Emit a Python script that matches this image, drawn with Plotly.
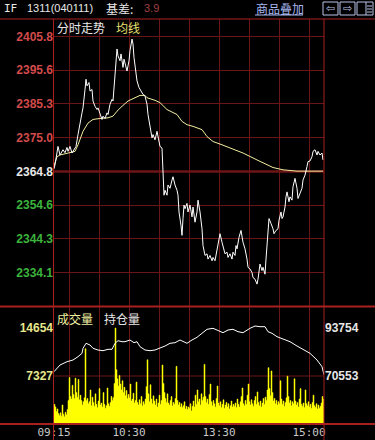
import plotly.graph_objects as go

W, H = 375, 440

# ---------------- data ----------------
prev_close = 2364.8
price_ticks = [2405.8, 2395.6, 2385.3, 2375.0, 2364.8, 2354.6, 2344.3, 2334.1]
pct_labels = ["+1.73%", "+1.30%", "+0.87%", "+0.43%", "+0.00%", "-0.43%", "-0.87%", "-1.30%"]

price_min = [0, 1, 4, 6, 9, 11, 13, 14, 16, 18, 19, 22, 24, 26, 28, 29, 30, 31, 32, 33, 35, 36, 38, 39,
             41, 43, 44, 46, 48, 49, 51, 53, 54, 56, 58, 59, 61, 63, 64, 66, 67, 69, 70, 72, 73, 75, 76,
             78, 79, 80, 82, 83, 85, 88, 89, 91, 93, 94, 96, 98, 99, 101, 103, 104, 106, 108, 109, 110,
             111, 113, 114, 116, 118, 119, 121, 123, 124, 125, 127, 128, 129, 130, 131, 133, 134, 136,
             138, 139, 141, 143, 144, 146, 148, 149, 151, 153, 154, 156, 158, 159, 161, 163, 164, 166,
             168, 169, 171, 173, 174, 176, 178, 179, 181, 182, 183, 185, 187, 189, 191, 193, 194, 196,
             198, 199, 201, 203, 204, 206, 208, 209, 211, 212, 213, 215, 217, 219, 220, 222, 224, 225,
             227, 228, 229, 231, 232, 233, 235, 236, 238, 239, 241, 243, 244, 246, 248, 249, 251, 253,
             254, 256, 258, 259, 261, 263, 264, 266, 268, 269]
price_val = [2365.6, 2366.8, 2372.4, 2369.8, 2371.4, 2370.5, 2372.1, 2370.9, 2372.4, 2370.4, 2370.9,
             2372.4, 2376.0, 2380.0, 2382.6, 2384.1, 2386.2, 2389.7, 2392.8, 2390.8, 2391.8, 2389.2,
             2389.7, 2386.2, 2384.6, 2383.6, 2384.1, 2382.1, 2380.6, 2381.6, 2380.9, 2382.6, 2382.1,
             2385.2, 2386.7, 2386.2, 2395.3, 2402.0, 2399.9, 2398.4, 2400.5, 2396.4, 2398.9, 2396.9,
             2395.3, 2398.4, 2401.5, 2405.0, 2403.5, 2399.4, 2394.9, 2392.3, 2390.3, 2388.7, 2388.2,
             2387.7, 2385.2, 2382.1, 2379.0, 2375.0, 2376.0, 2374.4, 2377.0, 2375.0, 2372.4, 2371.9,
             2362.7, 2357.6, 2359.1, 2357.6, 2360.7, 2359.7, 2362.2, 2363.2, 2360.7, 2359.1, 2357.6,
             2352.5, 2348.4, 2345.4, 2350.5, 2354.6, 2353.5, 2355.1, 2352.5, 2354.6, 2351.0, 2354.0,
             2349.4, 2352.5, 2356.1, 2352.5, 2347.4, 2342.3, 2339.3, 2339.8, 2338.2, 2339.3, 2337.7,
             2338.7, 2337.7, 2341.3, 2343.3, 2345.9, 2343.3, 2341.8, 2339.8, 2340.3, 2338.7, 2339.8,
             2338.2, 2340.3, 2339.3, 2342.3, 2341.3, 2344.8, 2346.9, 2343.3, 2341.3, 2338.2, 2335.7,
             2335.2, 2334.1, 2332.6, 2332.1, 2330.6, 2332.1, 2336.7, 2334.7, 2335.7, 2333.6, 2338.2,
             2343.3, 2350.5, 2349.0, 2347.4, 2345.9, 2346.9, 2347.4, 2350.0, 2352.5, 2350.5, 2351.0,
             2354.0, 2357.1, 2358.6, 2355.6, 2357.1, 2356.1, 2360.2, 2362.7, 2359.7, 2356.6, 2358.1,
             2359.7, 2362.2, 2363.7, 2366.3, 2367.8, 2368.0, 2369.3, 2370.9, 2371.4, 2369.8, 2370.9,
             2369.8, 2370.4, 2368.3]

avg_min = [0, 3, 6, 11, 21, 24, 29, 34, 39, 46, 54, 59, 63, 68, 74, 81, 86, 91, 93, 101, 106, 113,
           123, 128, 133, 139, 148, 153, 159, 168, 174, 181, 189, 203, 213, 219, 229, 243, 269]
avg_val = [2366.5, 2369.3, 2369.8, 2370.1, 2370.9, 2372.9, 2377.0, 2379.5, 2380.6, 2380.9, 2381.1,
           2381.6, 2383.1, 2384.6, 2386.2, 2387.2, 2387.9, 2387.9, 2387.2, 2386.4, 2385.7, 2383.6,
           2382.1, 2380.0, 2379.0, 2378.5, 2377.5, 2375.4, 2373.9, 2372.9, 2372.2, 2371.4, 2370.4,
           2368.3, 2366.8, 2366.0, 2365.3, 2364.9, 2364.9]

volume = [
    3000, 2600, 1900, 2300, 1600, 1300, 1700, 1200, 2900, 1500, 1100, 1800, 1400, 2200, 3600,
    7100, 4200, 3800, 5900, 4500, 3900, 7000, 4800, 4100, 6800, 3700, 4400, 3600, 2900, 3400,
    4000, 11500, 3600, 3900, 3100, 3400, 5200, 2800, 4100, 3300, 2700, 4600, 3000, 2500, 3500,
    5400, 2900, 3200, 2600, 4800, 3000, 2400, 2800, 5500, 3100, 2700, 3300, 4200, 3600, 4000,
    6200, 14654, 8300, 6900, 5800, 7400, 6100, 5200, 6600, 4800, 5600, 4300, 5100, 3900, 4500,
    4000, 6100, 3500, 3800, 4700, 3200, 3600, 6400, 3300, 2900, 3700, 3100, 4200, 2800, 3400,
    3000, 3800, 5700, 9800, 4600, 3400, 6000, 3800, 3100, 4300, 3500, 2900, 3800, 2600, 3200,
    4400, 3000, 3600, 9000, 6200, 4800, 3900, 3300, 4600, 3200, 2900, 3600, 4200, 2800, 3300,
    3000, 3900, 8800, 3600, 2900, 3300, 2600, 3100, 2500, 2800, 3400, 2300, 2700, 2200, 2600,
    2400, 3100, 2000, 2700, 3500, 2600, 4400, 3000, 5200, 3400, 3800, 2900, 4600, 3600, 4100,
    9100, 4200, 3300, 3800, 3000, 4500, 6100, 3400, 2800, 3600, 3100, 2600, 3900, 5800, 3200,
    2800, 3400, 2500, 3000, 3700, 2400, 2900, 3300, 2600, 3100, 2300, 2800, 3500, 2600, 3000,
    2700, 3200, 2500, 3800, 3000, 2600, 3400, 4200, 5500, 3100, 2800, 3600, 3000, 4400, 6100,
    3400, 2900, 3700, 3100, 2700, 3600, 4200, 3000, 4900, 3300, 2800, 3500, 2600, 3200, 3900,
    3000, 4100, 3600, 5200, 8600, 5400, 4300, 8100, 4800, 3500, 3900, 3100, 3600, 2900, 3400,
    3100, 6600, 3800, 3000, 3500, 2700, 3300, 4000, 7300, 4200, 3200, 3600, 2800, 3400, 3100,
    6900, 3500, 2900, 3300, 2600, 3800, 5400, 3000, 2700, 3200, 2500, 5200, 3100, 2800, 3400,
    2600, 3000, 2400, 3300, 4400, 2800, 2500, 3100, 2300, 2900, 2400, 2700, 3200, 4200, 3800,
]
vol_min = list(range(len(volume)))

oi_min = [0, 6, 13, 19, 24, 28, 29, 32, 36, 39, 44, 49, 54, 58, 61, 64, 68, 71, 76, 80, 83, 86, 91,
          96, 101, 106, 111, 116, 121, 126, 129, 133, 138, 143, 148, 153, 159, 164, 169, 174, 179,
          184, 189, 196, 201, 206, 211, 214, 218, 223, 229, 236, 243, 249, 256, 263, 268, 270]
oi_val = [72632, 75870, 77466, 78287, 79883, 81526, 83943, 86360, 85538, 83943, 83121, 82783, 83460,
          83460, 86360, 87617, 87134, 87134, 87955, 86650, 87134, 84717, 83121, 82783, 83121, 83943,
          85055, 86360, 86650, 87955, 87134, 86360, 87955, 89261, 91194, 93128, 93611, 92451, 91484,
          92789, 93128, 91968, 91484, 93611, 94723, 94385, 94385, 91968, 91194, 89551, 88294, 87134,
          85055, 83460, 81526, 78287, 75049, 71100]

vol_ticks = [14654, 7327]
oi_ticks = [93754, 70553]
grid_minutes = [15, 45, 75, 105, 135, 165, 195, 225, 255]
time_ticks = [0, 75, 165, 255]
time_labels = ["09:15", "10:30", "13:30", "15:00"]

# ---------------- layout geometry ----------------
X0, X1 = 54, 324
P_TOP, P_BOT = 19, 306.5
V_TOP, V_BOT = 306.5, 424
price_range = [2323.8, 2411.1]
vol_range = [0, 7327 * (V_BOT - V_TOP) / 48.0]
oi_per_px = (93754 - 70553) / 48.0
oi_range = [70553 - (V_BOT - 376) * oi_per_px, 93754 + (328 - V_TOP) * oi_per_px]


def px(x):
    return x / W


def py(y):
    return 1 - y / H


RED = "#d24a4a"
GREEN = "#3cb43c"
WHITE = "#e8e8e8"
GRID = "#6a1616"
BORDER = "#a82020"


def colored(v):
    if v > prev_close + 0.01:
        return RED
    if v < prev_close - 0.01:
        return GREEN
    return WHITE


price_text = ['<span style="color:%s">%.1f</span>' % (colored(v), v) for v in price_ticks]
pct_text = ['<span style="color:%s">%s</span>' % (colored(v), t) for v, t in zip(price_ticks, pct_labels)]

fig = go.Figure()
# volume as a stepped filled area (one step per minute)
fig.add_trace(go.Scatter(x=vol_min + [len(volume)], y=volume + [volume[-1]], mode="lines",
                         line=dict(color="#ffff00", width=0.5, shape="hv"), fill="tozeroy",
                         fillcolor="#ffff00", xaxis="x2", yaxis="y3", hoverinfo="skip"))
fig.add_trace(go.Scatter(x=oi_min, y=oi_val, mode="lines", line=dict(color="#ffffff", width=1),
                         xaxis="x2", yaxis="y4", hoverinfo="skip"))
fig.add_trace(go.Scatter(x=avg_min, y=avg_val, mode="lines", line=dict(color="#f2eea0", width=1),
                         xaxis="x", yaxis="y", hoverinfo="skip"))
fig.add_trace(go.Scatter(x=price_min, y=price_val, mode="lines", line=dict(color="#ffffff", width=1),
                         xaxis="x", yaxis="y", hoverinfo="skip"))

lblfont = dict(family="Liberation Sans", size=12, weight="bold")
xdom = [px(X0), px(X1)]
common = dict(automargin=False, zeroline=False, showline=False, fixedrange=True)
fig.update_layout(
    width=W, height=H, margin=dict(l=0, r=0, t=0, b=0, autoexpand=False),
    paper_bgcolor="#000000", plot_bgcolor="#000000",
    showlegend=False,
    xaxis=dict(domain=xdom, range=[0, 270], anchor="y", tickmode="array", tickvals=grid_minutes,
               showticklabels=False, ticks="", showgrid=True, gridcolor=GRID, gridwidth=1, **common),
    yaxis=dict(domain=[py(P_BOT), py(P_TOP)], range=price_range, anchor="x", tickmode="array",
               tickvals=price_ticks, ticktext=price_text, ticks="", showgrid=True, gridcolor=GRID,
               gridwidth=1, tickfont=lblfont, ticklabelstandoff=0, **common),
    yaxis2=dict(overlaying="y", side="right", range=price_range, anchor="x", tickmode="array",
                tickvals=price_ticks, ticktext=pct_text, ticks="", showgrid=False,
                tickfont=lblfont, ticklabelstandoff=0, **common),
    xaxis2=dict(domain=xdom, range=[0, 270], anchor="y3", tickmode="array",
                tickvals=[0] + grid_minutes,
                ticktext=[time_labels[time_ticks.index(t)] if t in time_ticks else "" for t in [0] + grid_minutes],
                ticks="", showgrid=True, gridcolor=GRID, gridwidth=1,
                tickfont=dict(family="DejaVu Sans Mono", size=11, color="#c8c8c8"), ticklabelstandoff=0,
                **common),
    yaxis3=dict(domain=[py(V_BOT), py(V_TOP)], range=vol_range, anchor="x2", tickmode="array",
                tickvals=vol_ticks, ticktext=[str(v) for v in vol_ticks], ticks="", showgrid=False,
                tickfont=dict(lblfont, color="#e6e68c"), ticklabelstandoff=0, **common),
    yaxis4=dict(overlaying="y3", side="right", range=oi_range, anchor="x2", tickmode="array",
                tickvals=oi_ticks, ticktext=[str(v) for v in oi_ticks], ticks="", showgrid=False,
                tickfont=dict(lblfont, color=WHITE), ticklabelstandoff=0, **common),
)

shapes = []
shapes.append(dict(type="line", xref="x domain", yref="y", x0=0, x1=1, y0=prev_close, y1=prev_close,
                   line=dict(color=BORDER, width=2), layer="below"))
shapes.append(dict(type="line", xref="x2 domain", yref="y3", x0=0, x1=1, y0=vol_ticks[1], y1=vol_ticks[1],
                   line=dict(color=GRID, width=1), layer="below"))
for yy, wd in [(P_TOP, 1), (V_TOP, 2), (V_BOT, 2)]:
    shapes.append(dict(type="line", xref="paper", yref="paper", x0=0, x1=1, y0=py(yy), y1=py(yy),
                       line=dict(color=BORDER, width=wd)))
for xx in [X0 - 0.5, X1]:
    shapes.append(dict(type="line", xref="paper", yref="paper", x0=px(xx), x1=px(xx), y0=py(P_TOP), y1=0,
                       line=dict(color=BORDER, width=1)))
ICON = "#b8c4e8"
for bx0, bx1 in [(323, 338), (340, 355), (357, 373)]:
    shapes.append(dict(type="rect", xref="paper", yref="paper", x0=px(bx0), x1=px(bx1), y0=py(15), y1=py(2),
                       line=dict(color=ICON, width=1)))
shapes.append(dict(type="line", xref="paper", yref="paper", x0=px(366), x1=px(366), y0=py(15), y1=py(2),
                   line=dict(color=ICON, width=1)))
for yy in [6, 9, 12]:
    shapes.append(dict(type="line", xref="paper", yref="paper", x0=px(367), x1=px(372), y0=py(yy), y1=py(yy),
                       line=dict(color=ICON, width=1)))
shapes.append(dict(type="line", xref="paper", yref="paper", x0=px(255), x1=px(303), y0=py(15), y1=py(15),
                   line=dict(color="#a8b8f0", width=1)))
fig.update_layout(shapes=shapes)

CJK = "Noto Sans CJK SC"
ann = []


def text(x, y, s, color, size=12, family=CJK, anchor="left"):
    ann.append(dict(x=px(x), y=py(y), xref="paper", yref="paper", text=s, showarrow=False,
                    xanchor=anchor, yanchor="middle", font=dict(family=family, size=size, color=color)))


text(2, 8, "IF", WHITE, 11, "DejaVu Sans Mono")
text(25, 8, "1311(040111)", WHITE, 11, "Liberation Sans")
text(104, 8, "基差:", WHITE, 12)
text(142, 8, "3.9", "#a04040", 11, "Liberation Sans")
text(254, 8, "商品叠加", "#a8b8f0", 12)
text(324, 8, "⇦", ICON, 11, "DejaVu Sans")
text(341, 8, "⇨", ICON, 11, "DejaVu Sans")
text(55, 27, "分时走势", WHITE, 12)
text(114, 27, "均线", "#e6e070", 12)
text(55, 318, "成交量", "#f0f0a0", 12)
text(102, 318, "持仓量", WHITE, 12)
fig.update_layout(annotations=ann)

fig.write_html("out.html")
